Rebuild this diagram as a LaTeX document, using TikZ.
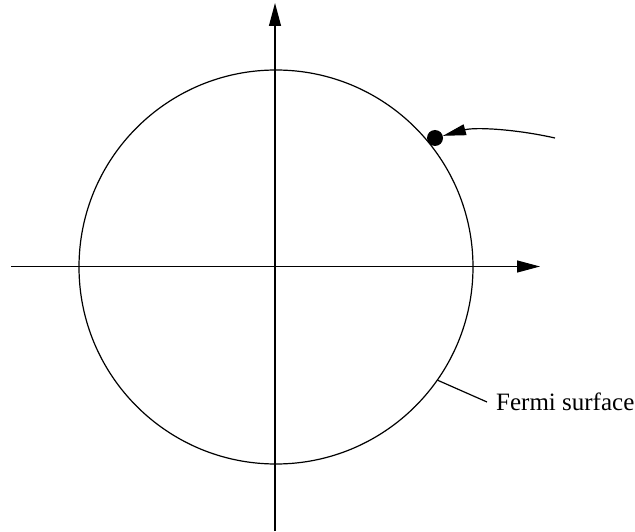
\documentclass[tikz,border=0pt]{standalone}
\usepackage{fontspec}
\setmainfont{Liberation Serif}
\usetikzlibrary{arrows.meta}
\begin{document}
\begin{tikzpicture}[x=1pt,y=-1pt,
  ln/.style={line width=1.2pt},
  axarrow/.style={ln,-{Triangle[length=23pt,width=12pt]}},
  lbl/.style={font=\fontsize{25}{29}\selectfont, inner sep=0pt, anchor=base west}]
\useasboundingbox (0,0) rectangle (635,532);
\draw[axarrow] (11,266.5) coordinate (xs) -- (540,266.5) coordinate (xe);
\draw[axarrow] (275,531) coordinate (ys) -- (275,3) coordinate (ye);
\node[circle, draw, ln, minimum size=394pt, inner sep=0pt] (fs) at (276,267) {};
\node[circle, fill=black, minimum size=16pt, inner sep=0pt] (dot) at (435,138) {};
\coordinate (src) at (555,138);
\draw[ln,-{Triangle[length=23pt,width=11pt]}] (src) .. controls (515,129) and (475,127) .. (dot);
\node[lbl] (lab) at (496,410) {Fermi surface};
\draw[ln] (fs.-35) -- (487,402);
\end{tikzpicture}
\end{document}
